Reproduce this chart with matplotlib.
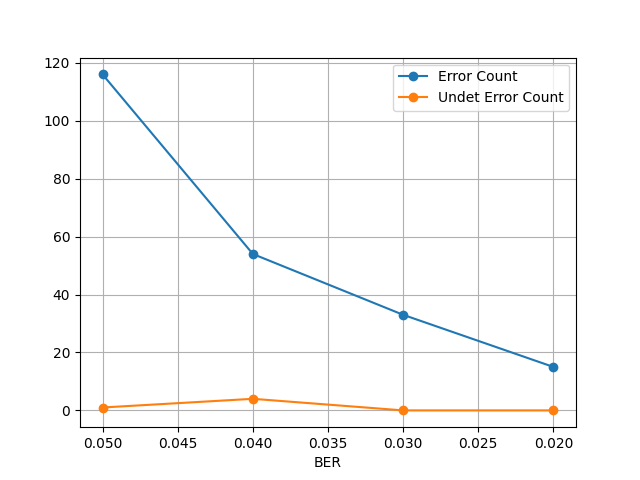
import matplotlib
matplotlib.use("Agg")
import matplotlib.pyplot as plt

ber = [0.05, 0.04, 0.03, 0.02]
error_count = [116, 54, 33, 15]
undet_error_count = [1, 4, 0, 0]

fig, ax = plt.subplots(figsize=(6.4, 4.8), dpi=100)
ax.plot(ber, error_count, marker='o', label='Error Count')
ax.plot(ber, undet_error_count, marker='o', label='Undet Error Count')
ax.invert_xaxis()
ax.set_xticks([0.05, 0.045, 0.04, 0.035, 0.03, 0.025, 0.02])
ax.set_xlabel('BER')
ax.grid(True)
ax.legend(loc='upper right')
fig.savefig('out.png')
